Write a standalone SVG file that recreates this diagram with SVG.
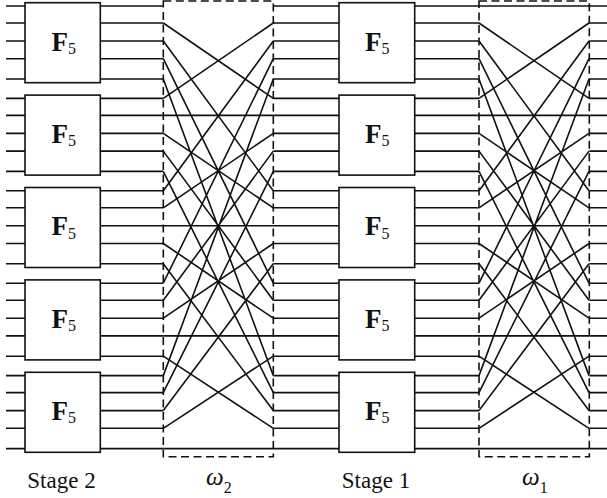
<svg xmlns="http://www.w3.org/2000/svg" xmlns:xlink="http://www.w3.org/1999/xlink" width="607" height="498" viewBox="0 0 607 498">
<style>
.bg{fill:#fff}
.box{fill:#fff;stroke:#111;stroke-width:1.6}
.ln{fill:none;stroke:#111;stroke-width:1.6}
.dash{fill:none;stroke:#111;stroke-width:1.6;stroke-dasharray:8 4.5}
text{font-family:'Liberation Serif','Times New Roman','DejaVu Serif',serif;fill:#111}
.F{font-weight:bold;font-size:27px}
.sub{font-weight:normal;font-style:normal;font-size:16px}
.lbl{font-size:23px}
.om{font-style:italic;font-size:25px}
</style>
<defs>
<path id="row" class="ln" d="M6 0H25M100.3 0H163.3M273.3 0H339M414.7 0H479M589.3 0H607"/>
<path id="perm" class="ln" d="M0 23L110 98.4M0 41L110 190.8M0 58.7L110 283.2M0 79L110 375.6M0 98.4L110 23M0 115.4H110M0 133.4L110 207.8M0 151.1L110 300.2M0 171.4L110 392.6M0 190.8L110 41M0 207.8L110 133.4M0 225.8H110M0 243.5L110 318.2M0 263.8L110 410.6M0 283.2L110 58.7M0 300.2L110 151.1M0 318.2L110 243.5M0 335.9H110M0 356.2L110 428.3M0 375.6L110 79M0 392.6L110 171.4M0 410.6L110 263.8M0 428.3L110 356.2M0 448.6H110"/>
</defs>
<rect class="bg" x="0" y="0" width="607" height="498"/>
<g id="connectors">
<use xlink:href="#row" y="6"/><use xlink:href="#row" y="23"/><use xlink:href="#row" y="41"/><use xlink:href="#row" y="58.7"/><use xlink:href="#row" y="79"/>
<use xlink:href="#row" y="98.4"/><use xlink:href="#row" y="115.4"/><use xlink:href="#row" y="133.4"/><use xlink:href="#row" y="151.1"/><use xlink:href="#row" y="171.4"/>
<use xlink:href="#row" y="190.8"/><use xlink:href="#row" y="207.8"/><use xlink:href="#row" y="225.8"/><use xlink:href="#row" y="243.5"/><use xlink:href="#row" y="263.8"/>
<use xlink:href="#row" y="283.2"/><use xlink:href="#row" y="300.2"/><use xlink:href="#row" y="318.2"/><use xlink:href="#row" y="335.9"/><use xlink:href="#row" y="356.2"/>
<use xlink:href="#row" y="375.6"/><use xlink:href="#row" y="392.6"/><use xlink:href="#row" y="410.6"/><use xlink:href="#row" y="428.3"/><use xlink:href="#row" y="448.6"/>
<use xlink:href="#perm" x="163.3"/>
<use xlink:href="#perm" x="479"/>
<path class="ln" d="M479 6H589.3"/>
</g>
<g id="omega2">
<rect class="dash" x="163.3" y="1" width="110" height="455.7"/>
<text class="om" x="206" y="484.5">ω<tspan class="sub" dy="8.5">2</tspan></text>
</g>
<g id="omega1">
<rect class="dash" x="479" y="1" width="110.3" height="455.7"/>
<text class="om" x="522" y="484.5">ω<tspan class="sub" dy="8.5">1</tspan></text>
</g>
<g id="stage2-box1"><rect class="box" x="25" y="2.7" width="75.3" height="80"/><text class="F" x="51.5" y="50.5">F<tspan class="sub" dy="3.3">5</tspan></text></g>
<g id="stage2-box2"><rect class="box" x="25" y="95.1" width="75.3" height="80"/><text class="F" x="51.5" y="142.9">F<tspan class="sub" dy="3.3">5</tspan></text></g>
<g id="stage2-box3"><rect class="box" x="25" y="187.5" width="75.3" height="80"/><text class="F" x="51.5" y="235.3">F<tspan class="sub" dy="3.3">5</tspan></text></g>
<g id="stage2-box4"><rect class="box" x="25" y="279.9" width="75.3" height="80"/><text class="F" x="51.5" y="327.7">F<tspan class="sub" dy="3.3">5</tspan></text></g>
<g id="stage2-box5"><rect class="box" x="25" y="372.3" width="75.3" height="80"/><text class="F" x="51.5" y="420.1">F<tspan class="sub" dy="3.3">5</tspan></text></g>
<g id="stage1-box1"><rect class="box" x="339" y="2.7" width="75.7" height="80"/><text class="F" x="365" y="50.5">F<tspan class="sub" dy="3.3">5</tspan></text></g>
<g id="stage1-box2"><rect class="box" x="339" y="95.1" width="75.7" height="80"/><text class="F" x="365" y="142.9">F<tspan class="sub" dy="3.3">5</tspan></text></g>
<g id="stage1-box3"><rect class="box" x="339" y="187.5" width="75.7" height="80"/><text class="F" x="365" y="235.3">F<tspan class="sub" dy="3.3">5</tspan></text></g>
<g id="stage1-box4"><rect class="box" x="339" y="279.9" width="75.7" height="80"/><text class="F" x="365" y="327.7">F<tspan class="sub" dy="3.3">5</tspan></text></g>
<g id="stage1-box5"><rect class="box" x="339" y="372.3" width="75.7" height="80"/><text class="F" x="365" y="420.1">F<tspan class="sub" dy="3.3">5</tspan></text></g>
<g id="labels">
<text class="lbl" x="61.5" y="487.5" text-anchor="middle">Stage 2</text>
<text class="lbl" x="376" y="487.5" text-anchor="middle">Stage 1</text>
</g>
</svg>
